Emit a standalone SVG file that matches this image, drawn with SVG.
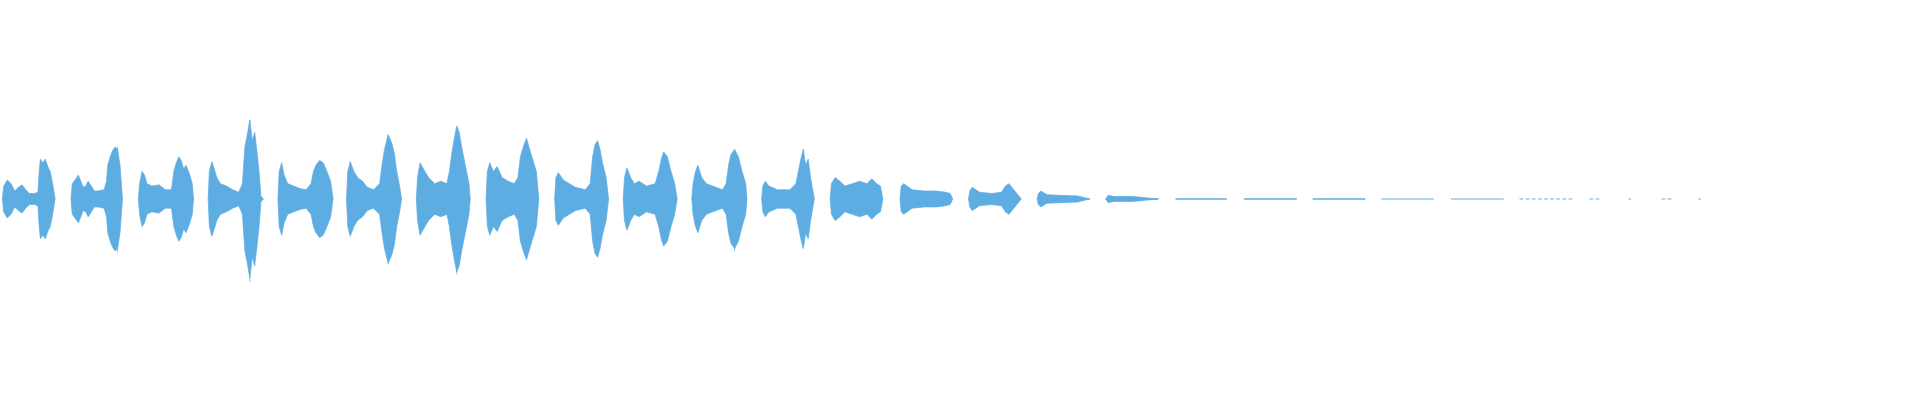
<svg xmlns="http://www.w3.org/2000/svg" xmlns:xlink="http://www.w3.org/1999/xlink" width="1920" height="400" viewBox="0 0 1920 400">
<style>.w{fill:#5dade2;stroke:#5dade2;stroke-width:0.6;stroke-linejoin:miter}.l{stroke:#5dade2;fill:none}</style>
<rect width="1920" height="400" fill="#fff"/>
<defs>
<path id="top" class="w" d="M2,162.5L3,152 6,147 9,150 12,156 15,153 18,151 21,155 24,158 28,158 31,157 32,140 33,130 35,133 37,130 39,136 41,140 43,150 45,162.5Z
M58,162.5L59,150 62,146 64,143 66,148 68,153 70,152 72,148 74,151 77,156 80,156 85,155 87,148 88,135 90,128 92,123 94,120 96,122 98,135 100,162.5Z
M113,162.5L114,150 116,140 118,143 120,150 124,152 130,151 135,155 140,155 142,140 144,133 146,128 148,131 150,138 152,135 155,143 157,150 158,162.5Z
M170,162.5L171,140 173,132 175,138 177,145 180,150 185,152 190,155 195,157 198,150 200,120 202,110 204,98 206,115 208,108 210,125 212,145 213,160 215,162.5Z
M227,162.5L228,140 230,133 232,143 235,150 240,152 245,154 250,155 254,150 256,140 258,135 261,131 264,133 267,140 270,148 272,162.5Z
M283,162.5L284,140 286,132 289,140 292,145 296,148 300,153 305,155 310,150 312,135 314,122 317,110 320,117 322,125 324,140 326,150 328,162.5Z
M340,162.5L341,145 343,133 347,140 350,145 355,150 360,148 365,150 367,140 369,125 371,113 373,103 375,108 377,120 380,135 383,150 384,162.5Z
M397,162.5L398,140 400,133 403,140 406,136 410,145 415,148 420,150 423,145 425,128 428,118 430,113 432,120 435,130 438,140 440,162.5Z
M453,162.5L454,145 456,141 460,147 465,150 470,153 478,155 482,150 484,128 486,118 488,115 490,122 492,133 495,145 497,162.5Z
M509,162.5L510,145 512,137 515,145 518,150 522,148 528,152 535,150 538,140 540,130 542,124 545,128 548,140 551,150 553,162.5Z
M565,162.5L566,150 568,140 570,135 573,145 577,150 582,152 590,155 593,150 595,135 597,126 600,122 603,128 606,140 609,150 610,162.5Z
M622,162.5L623,152 625,148 628,152 635,155 645,155 650,150 652,140 654,130 656,122 658,135 660,130 662,145 665,162.5Z
M678,162.5L679,150 682,145 686,148 690,152 696,150 702,148 708,150 712,146 716,150 719,152 721,162.5Z
M735,162.5L736,152 738,150 745,155 755,156 765,156 772,157 776,158 778,162.5Z
M791,162.5L792,156 794,153 800,157 810,158 818,157 821,152 824,150 828,155 834,162.5Z
M847,162.5L848,158 850,156 855,159 865,159.5 880,160 890,162.5Z
M903,162.5L905,159.5 910,160.5 925,160.5 946,162.5Z"/>
</defs>
<g id="waveform" transform="scale(1.22449)">
<use xlink:href="#top"/>
<use xlink:href="#top" transform="matrix(1 0 0 -1 0 325)"/>
<g class="l" stroke-width="0.6">
<path d="M204,98V230M373,103V224M317,110V216M96,120V206M488,115V210M430,113V212M600,122V205M656,122V202"/>
</g>
<g class="l" stroke-width="1.2">
<path d="M960,162.5H1002M1016,162.5H1059M1072,162.5H1115"/>
</g>
<g class="l" stroke-width="0.8">
<path d="M1128,162.5H1171M1185,162.5H1228"/>
<path d="M1241,162.5H1285M1298,162.5H1306M1330,162.5H1332M1357,162.5H1365M1387,162.5H1389" stroke-dasharray="3 2"/>
</g>
</g>
</svg>
